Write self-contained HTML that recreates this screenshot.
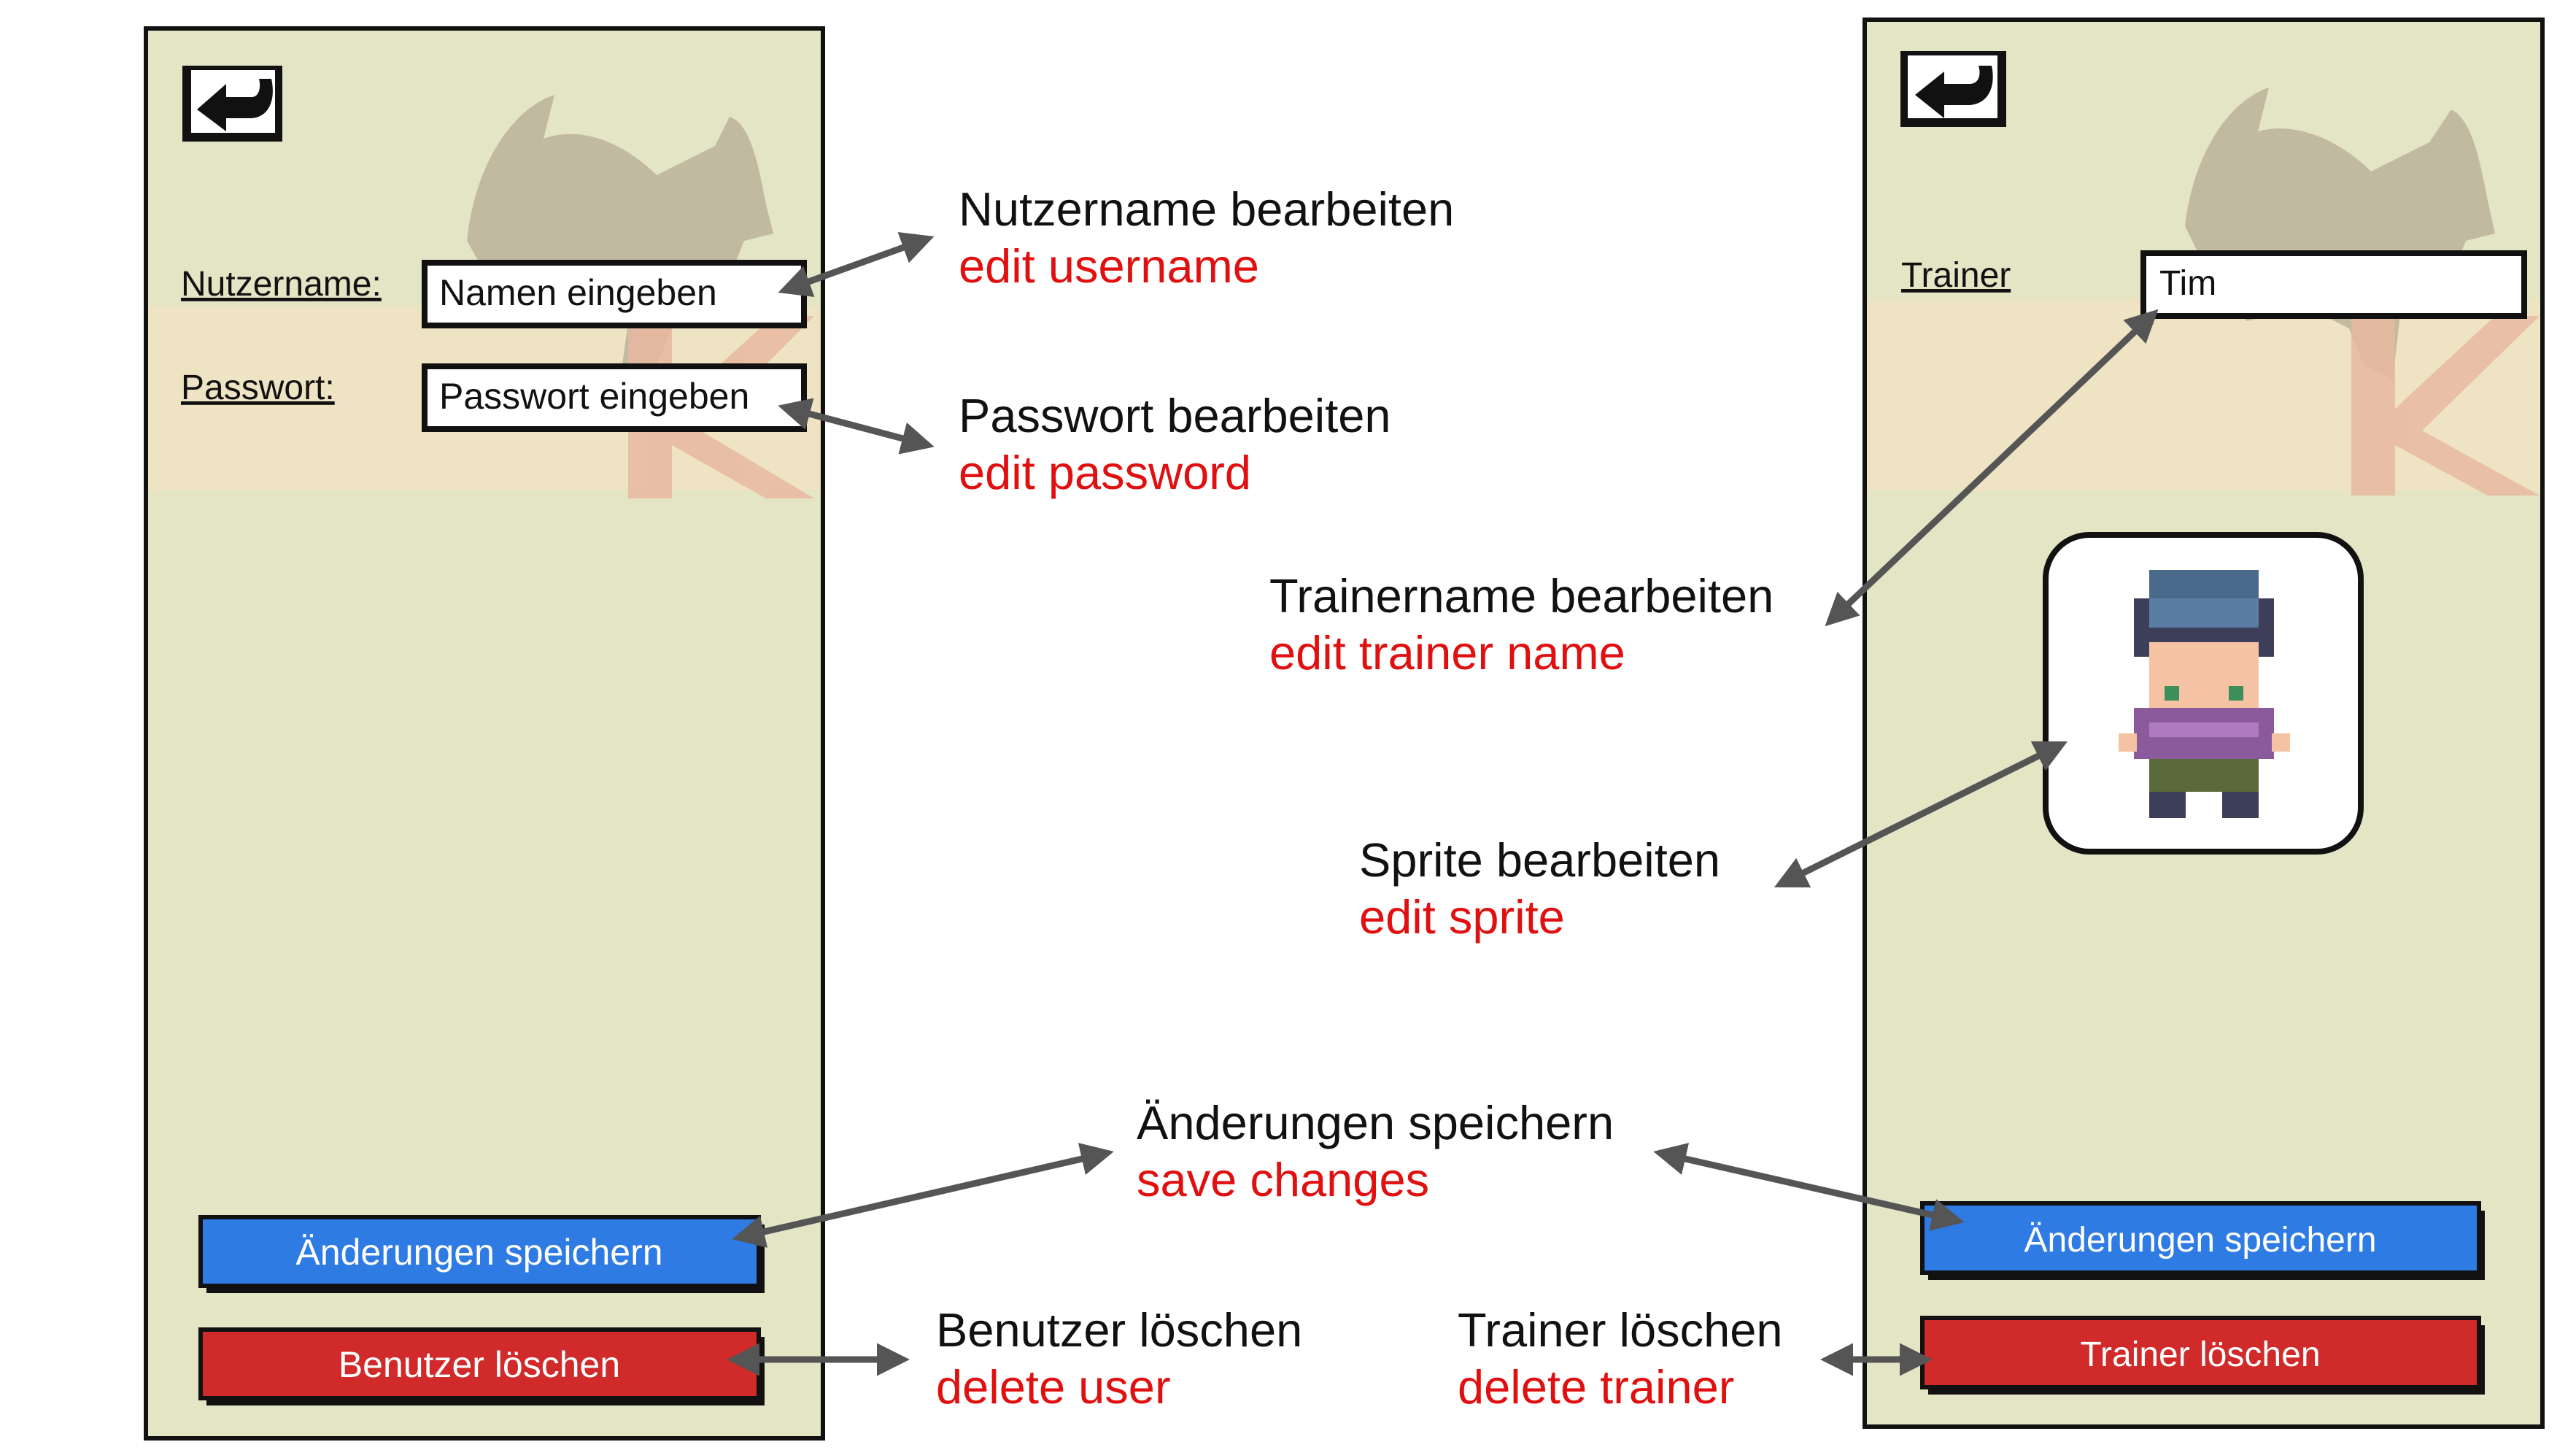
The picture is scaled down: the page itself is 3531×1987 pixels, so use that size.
<!DOCTYPE html>
<html><head><meta charset="utf-8"><style>
html,body{margin:0;padding:0;background:#fff}
svg{display:block}
text{font-family:"Liberation Sans",sans-serif}
</style></head><body>
<svg width="3531" height="1987" viewBox="0 0 3531 1987" xmlns="http://www.w3.org/2000/svg">
<defs>
<marker id="ah" viewBox="0 0 10 10" refX="8" refY="5" markerWidth="5" markerHeight="5" orient="auto-start-reverse"><path d="M0,0 L10,5 L0,10 z" fill="#555"/></marker>
</defs>
<rect width="3531" height="1987" fill="#fff"/>

<!-- LEFT PANEL -->
<g>
<rect x="200" y="39" width="928" height="1932" fill="#e3e5c5"/>
<rect x="200" y="420" width="928" height="252" fill="#eee3c3"/>
<path d="M640,330 C650,230 700,150 760,130 L745,190 C800,170 860,200 900,240 L980,200 L1000,160 C1030,170 1040,230 1050,280 L1060,320 L1020,330 L1000,380 L950,360 L930,430 L900,500 L880,560 L850,520 L860,450 L800,420 L720,440 L680,400 Z" fill="#bdb59b" opacity="0.9"/>
<g fill="#e8b9a0" opacity="0.85"><rect x="861" y="433" width="60" height="250"/><polygon points="921,560 1060,433 1116,433 960,590 1116,683 1050,683 921,610"/></g>
<rect x="200" y="39" width="928" height="1932" fill="none" stroke="#111" stroke-width="6"/>
<rect x="250" y="90" width="137" height="104" fill="#111"/>
<rect x="262" y="96" width="115" height="86" fill="#fff"/>
<path d="M270,150 L310,115 L310,133 L345,133 C355,133 358,120 355,108 L372,108 C378,135 370,160 345,162 L310,162 L310,180 Z" fill="#111"/>
<text x="248" y="405" font-size="48" fill="#111" text-decoration="underline">Nutzername:</text>
<text x="248" y="547" font-size="48" fill="#111" text-decoration="underline">Passwort:</text>
<rect x="582" y="360" width="520" height="86" fill="#fff" stroke="#111" stroke-width="8"/>
<text x="602" y="418" font-size="50" fill="#111">Namen eingeben</text>
<rect x="582" y="502" width="520" height="86" fill="#fff" stroke="#111" stroke-width="8"/>
<text x="602" y="560" font-size="50" fill="#111">Passwort eingeben</text>
<rect x="283" y="1678" width="765" height="94" fill="#111"/>
<rect x="275" y="1668" width="765" height="94" fill="#2f7be4" stroke="#111" stroke-width="6"/>
<text x="657" y="1733" font-size="50" fill="#fff" text-anchor="middle">Änderungen speichern</text>
<rect x="283" y="1832" width="765" height="94" fill="#111"/>
<rect x="275" y="1822" width="765" height="94" fill="#d02a2a" stroke="#111" stroke-width="6"/>
<text x="657" y="1887" font-size="50" fill="#fff" text-anchor="middle">Benutzer löschen</text>
</g>

<!-- RIGHT PANEL -->
<g>
<rect x="2556" y="27" width="929" height="1928" fill="#e3e5c5"/>
<rect x="2556" y="410" width="929" height="262" fill="#eee3c3"/>
<path d="M2995,310 C3005,220 3050,140 3110,120 L3095,180 C3150,165 3210,195 3250,235 L3330,195 L3360,150 C3390,165 3400,225 3410,275 L3420,320 L3380,330 L3360,380 L3310,360 L3290,430 L3280,520 L3240,500 L3220,450 L3160,420 L3080,440 L3040,400 Z" fill="#bdb59b" opacity="0.9"/>
<g fill="#e8b9a0" opacity="0.85"><rect x="3223" y="433" width="60" height="246"/><polygon points="3283,560 3420,433 3481,433 3320,590 3481,679 3410,679 3283,610"/></g>
<rect x="2556" y="27" width="929" height="1928" fill="none" stroke="#111" stroke-width="6"/>
<rect x="2605" y="70" width="145" height="104" fill="#111"/>
<rect x="2615" y="76" width="123" height="86" fill="#fff"/>
<path d="M2625,130 L2665,98 L2665,115 L2700,115 C2712,115 2716,103 2712,90 L2730,90 C2736,118 2726,142 2700,144 L2665,144 L2665,162 Z" fill="#111"/>
<text x="2606" y="393" font-size="48" fill="#111" text-decoration="underline">Trainer</text>
<rect x="2938" y="347" width="522" height="86" fill="#fff" stroke="#111" stroke-width="8"/>
<text x="2960" y="404" font-size="48" fill="#111">Tim</text>
<rect x="2804" y="733" width="432" height="434" rx="60" fill="#fff" stroke="#111" stroke-width="8"/>
<g>
<rect x="2946" y="781" width="150" height="60" fill="#4a6a8c"/>
<rect x="2925" y="820" width="192" height="80" fill="#3d3f5a"/>
<rect x="2946" y="820" width="150" height="40" fill="#5a7ea3"/>
<rect x="2946" y="880" width="150" height="90" fill="#f5c3a3"/>
<rect x="2967" y="940" width="20" height="20" fill="#3c8f5a"/>
<rect x="3055" y="940" width="20" height="20" fill="#3c8f5a"/>
<rect x="2925" y="970" width="192" height="70" fill="#8a5a9a"/>
<rect x="2946" y="990" width="150" height="20" fill="#b07ac0"/>
<rect x="2904" y="1005" width="25" height="25" fill="#f5c3a3"/>
<rect x="3114" y="1005" width="25" height="25" fill="#f5c3a3"/>
<rect x="2946" y="1040" width="150" height="45" fill="#5a6a3a"/>
<rect x="2946" y="1085" width="50" height="36" fill="#3d3f5a"/>
<rect x="3046" y="1085" width="50" height="36" fill="#3d3f5a"/>
</g>
<rect x="2643" y="1659" width="763" height="95" fill="#111"/>
<rect x="2635" y="1649" width="763" height="95" fill="#2f7be4" stroke="#111" stroke-width="6"/>
<text x="3016" y="1715" font-size="48" fill="#fff" text-anchor="middle">Änderungen speichern</text>
<rect x="2643" y="1816" width="763" height="95" fill="#111"/>
<rect x="2635" y="1806" width="763" height="95" fill="#d02a2a" stroke="#111" stroke-width="6"/>
<text x="3016" y="1872" font-size="48" fill="#fff" text-anchor="middle">Trainer löschen</text>
</g>

<g stroke="#555" stroke-width="9" fill="none" marker-start="url(#ah)" marker-end="url(#ah)">
<line x1="1075" y1="398" x2="1272" y2="327"/>
<line x1="1075" y1="558" x2="1272" y2="610"/>
<line x1="2508" y1="852" x2="2952" y2="430"/>
<line x1="2440" y1="1212" x2="2826" y2="1020"/>
<line x1="1012" y1="1696" x2="1518" y2="1580"/>
<line x1="2275" y1="1580" x2="2684" y2="1673"/>
<line x1="1005" y1="1863" x2="1238" y2="1863"/>
<line x1="2504" y1="1863" x2="2640" y2="1863"/>
</g>

<g font-size="65">
<text x="1314" y="309" fill="#111">Nutzername bearbeiten</text>
<text x="1314" y="387" fill="#e01010">edit username</text>
<text x="1314" y="592" fill="#111">Passwort bearbeiten</text>
<text x="1314" y="670" fill="#e01010">edit password</text>
<text x="1740" y="839" fill="#111">Trainername bearbeiten</text>
<text x="1740" y="917" fill="#e01010">edit trainer name</text>
<text x="1863" y="1201" fill="#111">Sprite bearbeiten</text>
<text x="1863" y="1279" fill="#e01010">edit sprite</text>
<text x="1558" y="1561" fill="#111">Änderungen speichern</text>
<text x="1558" y="1639" fill="#e01010">save changes</text>
<text x="1283" y="1845" fill="#111">Benutzer löschen</text>
<text x="1283" y="1923" fill="#e01010">delete user</text>
<text x="1998" y="1845" fill="#111">Trainer löschen</text>
<text x="1998" y="1923" fill="#e01010">delete trainer</text>
</g>
</svg>
</body></html>
